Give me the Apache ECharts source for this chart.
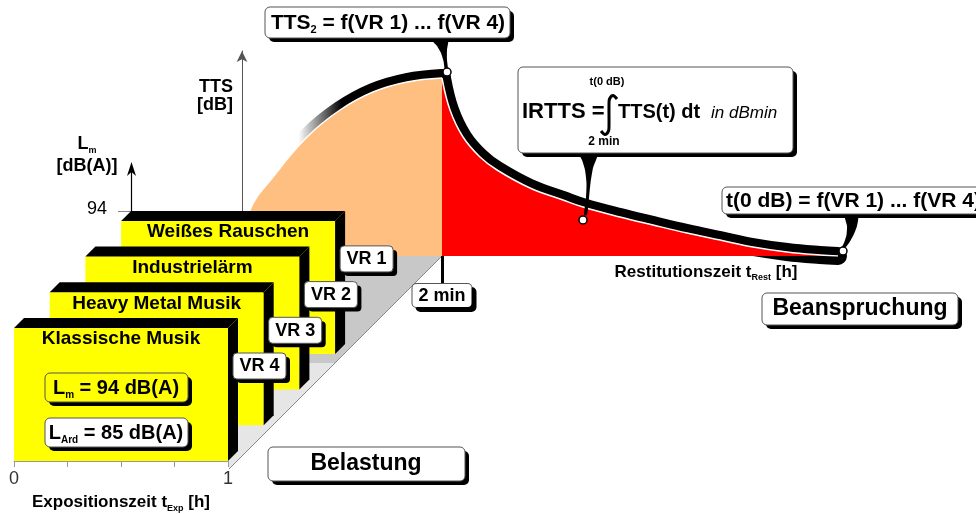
<!DOCTYPE html>
<html>
<head>
<meta charset="utf-8">
<script src="https://cdn.jsdelivr.net/npm/echarts@6/dist/echarts.min.js"></script>
<style>
  html, body { margin: 0; padding: 0; background: #fff; }
  #main { width: 976px; height: 514px; }
</style>
</head>
<body>
<div id="main"></div>
<script>
// TTS-Verlauf: Anstieg bis 2 min, danach Restitution (x in Zeiteinheiten, y in dB)
const riseTime = [0, 0.8, 3.1, 6.5, 9.8, 13.1, 16.5, 20];
const riseTTS = [0, 9.2, 15.8, 23.8, 29.2, 32.8, 34.8, 35.6];
const decayTime = [20, 20.8, 22.1, 23.8, 25.5, 28.8, 32.1, 34.1, 37.8, 41.1, 44.5, 47.8, 51.1, 54.5, 57.8, 59.6];
const decayTTS = [35.6, 29.2, 23.8, 19.8, 17.2, 13.6, 11.2, 9.8, 7.8, 6.2, 4.6, 3.2, 1.8, 0.8, 0.2, 0];
// Ankerpunkte der Sprechblasen: TTS2, IRTTS, t(0 dB)
const anchorTime = [20.5, 34.1, 60.1];
const anchorTTS = [36.8, 7.2, 1.0];
const restTicks = [20];
const restTickLabels = ['2 min'];

// Belastung: vier Geräuscharten, je 1 h bei Lm = 94 dB(A)
const noiseTypes = ['Weißes Rauschen', 'Industrielärm', 'Heavy Metal Musik', 'Klassische Musik'];
const vrLabels = ['VR 1', 'VR 2', 'VR 3', 'VR 4'];
const levelLm = 94;
const exposureEnd = 1;
const expTickLabels = [0, 1];

const FONT = '"Liberation Sans", Arial, sans-serif';
const zip = (a, b) => a.map((v, i) => [v, b[i]]);

var chartDom = document.getElementById('main');
var myChart = echarts.init(chartDom);

const subRich = function (size) {
    return {
        b: { fontFamily: FONT, fontWeight: 'bold', fontSize: size, lineHeight: size + 4, color: '#000' },
        s: { fontFamily: FONT, fontWeight: 'bold', fontSize: Math.round(size * 0.5), lineHeight: Math.round(size * 0.6), verticalAlign: 'bottom', color: '#000' }
    };
};

// kasten mit schwarzem schatten
function panel(x, y, w, h, fill) {
    return [
        { type: 'rect', z: 30, shape: { x: x + 4, y: y + 4, width: w, height: h, r: 5 }, style: { fill: '#000' } },
        { type: 'rect', z: 31, shape: { x: x, y: y, width: w, height: h, r: 5 }, style: { fill: fill || '#fff', stroke: '#555', lineWidth: 1 } }
    ];
}
function txt(x, y, text, font, align, rich) {
    return {
        type: 'text', z: 32, x: x, y: y,
        style: { text: text, font: font, fill: '#000', align: align || 'center', verticalAlign: 'middle', rich: rich }
    };
}
function tail(points) {
    return { type: 'polygon', z: 29, shape: { points: points, smooth: 0.2 }, style: { fill: '#000' } };
}

var graphics = [
    // boden
    { type: 'polygon', z: 0, shape: { points: [[300, 256], [442, 256], [335, 363], [300, 363]] }, style: { fill: '#c8c8c8' } },
    { type: 'polygon', z: 0, shape: { points: [[270, 363], [335, 363], [229, 469], [229, 440]] }, style: { fill: '#e6e6e6' } },
    { type: 'line', z: 1, shape: { x1: 442, y1: 256, x2: 229, y2: 469 }, style: { stroke: '#888', lineWidth: 1 } },
    // Lm achse
    { type: 'line', z: 1, shape: { x1: 118, y1: 211.5, x2: 135, y2: 211.5 }, style: { stroke: '#888', lineWidth: 1 } },
    { type: 'line', z: 1, shape: { x1: 131.5, y1: 212, x2: 131.5, y2: 168 }, style: { stroke: '#000', lineWidth: 1.2 } },
    { type: 'polygon', z: 1, shape: { points: [[131.5, 162], [127, 176], [131.5, 172], [136, 176]] }, style: { fill: '#000' } },
    txt(107, 209, '94', '18px ' + FONT, 'right'),
    txt(87, 155, '{b|L}{s|m}\n{b|[dB(A)]}', 'bold 18px ' + FONT, 'center', subRich(18)),
    txt(233, 96, 'TTS\n[dB]', 'bold 18px ' + FONT, 'right'),
    txt(706, 272, '{b|Restitutionszeit t}{s|Rest}{b| [h]}', 'bold 17px ' + FONT, 'center', subRich(17))
];

// sprechblasen
graphics = graphics.concat(
    panel(265, 7, 245, 31),
    [tail([[431, 39], [437, 46], [441, 53], [443.5, 61], [445, 70], [448, 70], [447, 60], [447, 50], [448, 39]]),
     txt(388, 23, '{b|TTS}{s|2}{b| = f(VR 1) ... f(VR 4)}', 'bold 21px ' + FONT, 'center', subRich(21))],
    panel(518, 67, 275, 86),
    [tail([[578, 152], [582, 160], [585, 170], [586.5, 183], [586, 198], [584, 215], [587, 215], [589, 198], [590.5, 183], [593, 168], [598, 152]]),
     txt(522, 112, 'IRTTS =', 'bold 22px ' + FONT, 'left'),
     txt(607, 82, 't(0 dB)', 'bold 11px ' + FONT, 'center'),
     txt(604, 142, '2 min', 'bold 12px ' + FONT, 'center'),
     { type: 'polyline', z: 32, shape: { points: [[617, 99], [613, 95.5], [609.5, 99], [609, 104], [609, 126], [608.5, 131], [605, 134.5], [601, 131]], smooth: 0.3 }, style: { stroke: '#000', lineWidth: 3, fill: null } },
     txt(618, 112, 'TTS(t) dt', 'bold 20px ' + FONT, 'left'),
     txt(711, 113, 'in dBmin', 'italic 17px ' + FONT, 'left')],
    panel(722, 187, 260, 27),
    [tail([[845, 216], [847, 226], [846.5, 235], [844, 243], [841, 249], [844, 249], [849, 243], [854, 234], [857, 226], [858, 216]]),
     txt(726, 201, 't(0 dB) = f(VR 1) ... f(VR 4)', 'bold 21px ' + FONT, 'left')],
    panel(762, 293, 196, 32),
    [txt(860, 309, 'Beanspruchung', 'bold 23px ' + FONT, 'center')],
    panel(268, 447, 197, 34),
    [txt(366, 464, 'Belastung', 'bold 23px ' + FONT, 'center')],
    panel(45, 373, 143, 29, '#ffff00'),
    [txt(116, 388, '{b|L}{s|m}{b| = 94 dB(A)}', 'bold 20px ' + FONT, 'center', subRich(20))],
    panel(45, 418, 143, 29, '#fff'),
    [txt(116, 433, '{b|L}{s|Ard}{b| = 85 dB(A)}', 'bold 20px ' + FONT, 'center', subRich(20))]
);

function renderBox(params, api) {
    var depth = 3 - api.value(3);
    var tl = api.coord([api.value(0), api.value(2)]);
    var br = api.coord([api.value(1), 0]);
    var x = tl[0] + depth * 35.7, y = tl[1] - depth * 35.7;
    var w = br[0] - tl[0], h = br[1] - tl[1];
    var d = 10;
    return {
        type: 'group',
        children: [
            { type: 'rect', shape: { x: x, y: y, width: w, height: h }, style: { fill: '#ffff00' } },
            { type: 'polygon', shape: { points: [[x, y], [x + d, y - d], [x + w + d, y - d], [x + w, y]] }, style: { fill: '#000' } },
            { type: 'polygon', shape: { points: [[x + w, y], [x + w + d, y - d], [x + w + d, y + h - d], [x + w, y + h]] }, style: { fill: '#000' } },
            { type: 'text', x: x + w / 2, y: y + 11, style: { text: noiseTypes[params.dataIndex], font: 'bold 19px ' + FONT, fill: '#000', align: 'center', verticalAlign: 'middle' } },
            { type: 'rect', shape: { x: x + w + 9, y: y + 29, width: 53, height: 26, r: 4 }, style: { fill: '#000' } },
            { type: 'rect', shape: { x: x + w + 5, y: y + 25, width: 53, height: 26, r: 4 }, style: { fill: '#fff', stroke: '#555', lineWidth: 1 } },
            { type: 'text', x: x + w + 31.5, y: y + 38.5, style: { text: vrLabels[params.dataIndex], font: 'bold 18px ' + FONT, fill: '#000', align: 'center', verticalAlign: 'middle' } }
        ]
    };
}

var option = {
    animation: false,
    backgroundColor: '#fff',
    grid: [
        { left: 242, top: 51, width: 620, height: 205 },
        { left: 14, top: 328, width: 214, height: 142 }
    ],
    xAxis: [
        {
            gridIndex: 0, type: 'value', min: 0, max: 62, z: 5,
            axisLine: { show: false },
            splitLine: { show: false },
            axisTick: { show: true, customValues: restTicks, length: 27, lineStyle: { color: '#000', width: 3 } },
            axisLabel: {
                customValues: restTicks, margin: 28,
                formatter: function (v) { return restTickLabels[restTicks.indexOf(v)] || ''; },
                fontFamily: FONT, fontWeight: 'bold', fontSize: 18, color: '#000',
                backgroundColor: '#fff', borderColor: '#555', borderWidth: 1, borderRadius: 4,
                padding: [3, 6, 2, 6],
                shadowColor: '#000', shadowOffsetX: 4, shadowOffsetY: 4, shadowBlur: 0
            }
        },
        {
            gridIndex: 1, type: 'value', min: 0, max: exposureEnd, interval: 0.25, z: 20,
            axisLine: { lineStyle: { color: '#999', width: 1 } },
            axisTick: { length: 6, lineStyle: { color: '#999' } },
            splitLine: { show: false },
            axisLabel: { customValues: expTickLabels, margin: 9, fontFamily: FONT, fontSize: 18, color: '#333' },
            name: '{b|Expositionszeit t}{s|Exp}{b| [h]}',
            nameLocation: 'middle', nameGap: 31,
            nameTextStyle: { rich: subRich(17) }
        }
    ],
    yAxis: [
        {
            gridIndex: 0, type: 'value', min: 0, max: 41,
            axisLine: { show: true, symbol: ['none', 'arrow'], symbolSize: [8, 11], lineStyle: { color: '#555', width: 1 } },
            axisTick: { show: false }, axisLabel: { show: false }, splitLine: { show: false }
        },
        { gridIndex: 1, type: 'value', min: 0, max: levelLm, show: false }
    ],
    graphic: { elements: graphics },
    series: [
        {
            name: 'BandAnstieg', type: 'line', xAxisIndex: 0, yAxisIndex: 0, smooth: 0.4, symbol: 'none', z: 1,
            data: zip(riseTime, riseTTS),
            lineStyle: {
                width: 18, cap: 'round',
                color: { type: 'linear', x: 0, y: 0, x2: 1, y2: 0, colorStops: [
                    { offset: 0, color: 'rgba(0,0,0,0)' }, { offset: 0.3, color: 'rgba(0,0,0,0)' },
                    { offset: 0.5, color: '#000' }, { offset: 1, color: '#000' }] }
            }
        },
        {
            name: 'BandAbfall', type: 'line', xAxisIndex: 0, yAxisIndex: 0, smooth: 0.4, symbol: 'none', z: 1,
            data: zip(decayTime, decayTTS),
            lineStyle: { width: 18, color: '#000', cap: 'round', join: 'round' }
        },
        {
            name: 'TTS Anstieg', type: 'line', xAxisIndex: 0, yAxisIndex: 0, smooth: 0.4, symbol: 'none', z: 2,
            data: zip(riseTime, riseTTS),
            lineStyle: { width: 1.5, color: '#fff' },
            areaStyle: { color: '#ffbf80', opacity: 1 }
        },
        {
            name: 'TTS Restitution', type: 'line', xAxisIndex: 0, yAxisIndex: 0, smooth: 0.4, symbol: 'none', z: 2,
            data: zip(decayTime, decayTTS),
            lineStyle: { width: 1.5, color: '#fff' },
            areaStyle: { color: '#ff0000', opacity: 1 }
        },
        {
            name: 'Belastung', type: 'custom', coordinateSystem: 'cartesian2d', xAxisIndex: 1, yAxisIndex: 1, z: 3,
            renderItem: renderBox,
            data: noiseTypes.map(function (n, i) { return [0, exposureEnd, levelLm, i]; })
        },
        {
            name: 'Anker', type: 'scatter', xAxisIndex: 0, yAxisIndex: 0, z: 100, symbolSize: 8,
            data: zip(anchorTime, anchorTTS),
            itemStyle: { color: '#fff', borderColor: '#000', borderWidth: 1.5, opacity: 1 }
        }
    ]
};

option && myChart.setOption(option);
</script>
</body>
</html>
